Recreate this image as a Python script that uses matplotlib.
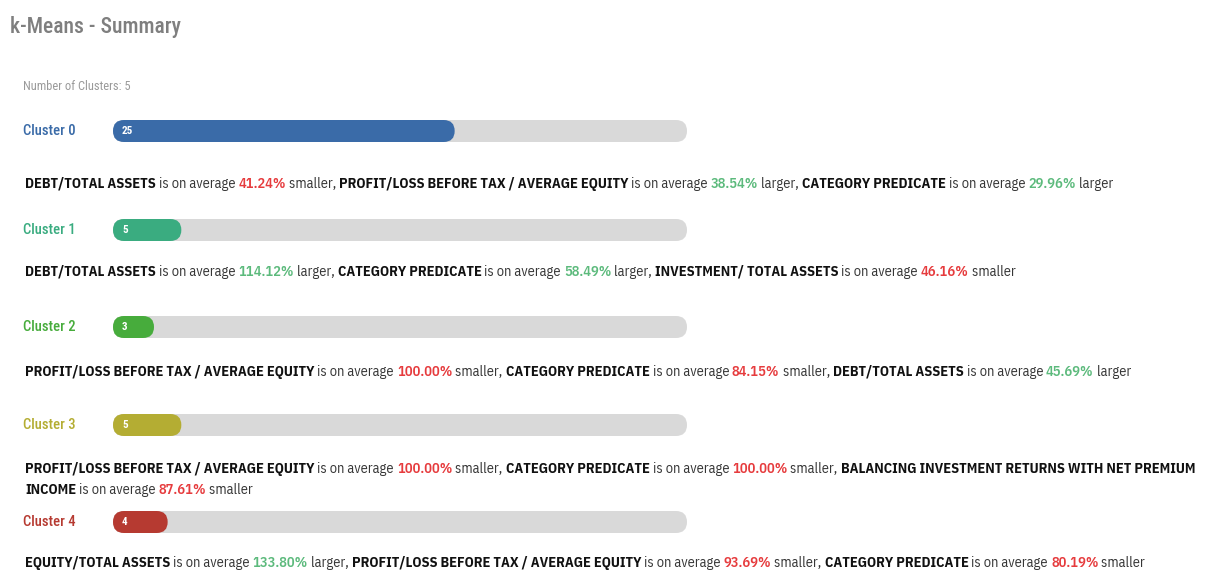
import matplotlib
matplotlib.use("Agg")
import matplotlib.pyplot as plt
from matplotlib.patches import FancyBboxPatch

# cluster sizes and their colours
clusters = ["Cluster 0", "Cluster 1", "Cluster 2", "Cluster 3", "Cluster 4"]
counts = [25, 5, 3, 5, 4]
colors = ["#3a6ba8", "#3aac80", "#47ac3c", "#b4ad33", "#b63a31"]

# three strongest deviations per cluster: (feature, percent, direction)
features = [
    ["DEBT/TOTAL ASSETS", "PROFIT/LOSS BEFORE TAX / AVERAGE EQUITY", "CATEGORY PREDICATE"],
    ["DEBT/TOTAL ASSETS", "CATEGORY PREDICATE", "INVESTMENT/ TOTAL ASSETS"],
    ["PROFIT/LOSS BEFORE TAX / AVERAGE EQUITY", "CATEGORY PREDICATE", "DEBT/TOTAL ASSETS"],
    ["PROFIT/LOSS BEFORE TAX / AVERAGE EQUITY", "CATEGORY PREDICATE",
     "BALANCING INVESTMENT RETURNS WITH NET PREMIUM INCOME"],
    ["EQUITY/TOTAL ASSETS", "PROFIT/LOSS BEFORE TAX / AVERAGE EQUITY", "CATEGORY PREDICATE"],
]
percents = [
    [41.24, 38.54, 29.96],
    [114.12, 58.49, 46.16],
    [100.00, 84.15, 45.69],
    [100.00, 100.00, 87.61],
    [133.80, 93.69, 80.19],
]
directions = [
    ["smaller", "larger", "larger"],
    ["larger", "larger", "smaller"],
    ["smaller", "smaller", "larger"],
    ["smaller", "smaller", "smaller"],
    ["larger", "smaller", "smaller"],
]

W, H = 1208, 575
RED = "#e63b3d"
GREEN = "#5cba7c"
BODY = "IBM Plex Sans Condensed"
LABEL = "Roboto Condensed"

fig = plt.figure(figsize=(W / 100, H / 100), dpi=100)
ax = fig.add_axes([0, 0, 1, 1])
ax.set_xlim(0, W)
ax.set_ylim(H, 0)
ax.axis("off")

# bar area: one axes spanning the track width, x in cluster counts
x0, x1 = 113, 687
total = sum(counts)
bax = fig.add_axes([x0 / W, 0, (x1 - x0) / W, 1])
bax.set_xlim(0, total)
bax.set_ylim(H, 0)
bax.axis("off")
sx = (x1 - x0) / total  # px per count
bar_h = 22

ax.text(10, 27, "k-Means - Summary", family=LABEL, fontsize=15.5, weight="medium",
        color="#7f7f7f", va="center", ha="left")
ax.text(23, 86, "Number of Clusters: 5", family=LABEL, fontsize=9, color="#9a9a9a",
        va="center", ha="left")

renderer = fig.canvas.get_renderer()


def text_width(s, **kw):
    t = ax.text(0, 0, s, **kw)
    w = t.get_window_extent(renderer).width
    t.remove()
    return w


def advance(s, **kw):
    # width including spaces and side bearings
    return text_width("|" + s + "|", **kw) - text_width("||", **kw)


FS = 10.35
style_n = dict(family=BODY, fontsize=FS, color="#363636")
style_b = dict(family=BODY, fontsize=FS, color="#111111", weight="bold")


def draw_line(segments, x, y, x_max=1208, line_h=21):
    start = x
    for txt, st in segments:
        while txt:
            if x + advance(txt.rstrip(), **st) <= x_max:
                ax.text(x, y, txt, va="baseline", ha="left", **st)
                x += advance(txt, **st)
                break
            # wrap: keep as many words as fit on this line
            words = txt.split(" ")
            n = len(words)
            while n > 0 and x + advance(" ".join(words[:n]), **st) > x_max:
                n -= 1
            head = " ".join(words[:n])
            if head.strip():
                ax.text(x, y, head, va="baseline", ha="left", **st)
            txt = " ".join(words[n:]).lstrip()
            x = start
            y += line_h


row_y = [131, 230, 327, 425, 522]
text_y = [188, 276, 376, 473, 567]

for i, name in enumerate(clusters):
    yc = row_y[i]
    ax.text(23, yc, name, family=LABEL, fontsize=10.5, weight="medium", color=colors[i],
            va="center", ha="left")
    r = (bar_h / 2) / sx
    track = FancyBboxPatch((0, yc - bar_h / 2), total, bar_h,
                           boxstyle=f"round,pad=0,rounding_size={r}",
                           mutation_aspect=sx, fc="#d9d9d9", ec="none")
    bax.add_patch(track)
    fill = FancyBboxPatch((0, yc - bar_h / 2), counts[i], bar_h,
                          boxstyle=f"round,pad=0,rounding_size={r}",
                          mutation_aspect=sx, fc=colors[i], ec="none")
    bax.add_patch(fill)
    bax.text(9 / sx, yc, str(counts[i]), fontsize=8, color="white", weight="bold",
             family=LABEL, va="center", ha="left")

    segs = []
    for j in range(3):
        pc = RED if directions[i][j] == "smaller" else GREEN
        segs.append((features[i][j], style_b))
        segs.append((" is on average ", style_n))
        segs.append((f"{percents[i][j]:.2f}%", dict(style_n, color=pc, weight="semibold")))
        segs.append((" " + directions[i][j] + (", " if j < 2 else ""), style_n))
    draw_line(segs, 25, text_y[i])

fig.savefig("out.png", dpi=100, facecolor="white")
